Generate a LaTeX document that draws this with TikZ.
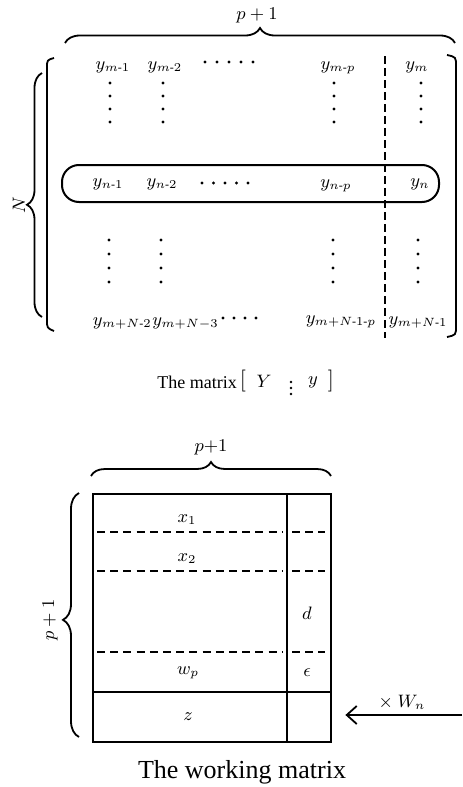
\documentclass[tikz,border=0pt]{standalone}
\usepackage{amsmath}
\usepackage{fontspec}
\setmainfont{Liberation Serif}
\usetikzlibrary{decorations.pathreplacing,arrows.meta}
\begin{document}
\begin{tikzpicture}[x=0.5pt,y=-0.5pt,
  lab/.style={font=\fontsize{9}{10}\selectfont, inner sep=0pt},
  captext/.style={font=\fontsize{9}{10}\selectfont, inner sep=0pt},
  bracepath/.style={decorate, decoration={brace, amplitude=#1}, line width=0.9pt},
  delim/.style={line width=0.9pt},
  sep/.style={line width=1pt, dash pattern=on 4pt off 2pt},
  rowsep/.style={line width=1pt, dash pattern=on 4pt off 2.6pt},
  frame/.style={line width=1.2pt},
  entry/.style={fill=black}]
\useasboundingbox (0,0) rectangle (462,787);

% ---------- the matrix [ Y : y ] ----------
% width brace
\draw[bracepath=7.5pt] (65,43) -- (455,43);
\node[lab] (pone) at (257,15) {$p+1$};

% height brace
\draw[bracepath=7.5pt, decoration={aspect=0.46}] (42,317) -- (42,73);
\node[lab, rotate=90] (nlab) at (19,205) {$N$};

% matrix delimiters
\draw[delim] (54,58) .. controls (47,60) .. (47,68) -- (47,320) .. controls (47,328) .. (54,331);
\draw[delim] (447,55) .. controls (456,57) .. (456,66) -- (456,326) .. controls (456,335) .. (447,337);

% partition between Y and y
\draw[sep] (385,56) -- (385,338);

% highlighted row n
\draw[line width=1pt, rounded corners=8.5pt] (62,165) rectangle (439,202);

% first row
\node[lab] (a1) at (113,67) {$y_{m\text{-}1}$};
\node[lab] (a2) at (165,67) {$y_{m\text{-}2}$};
\node[lab] (ap) at (338,68) {$y_{m\text{-}p}$};
\node[lab] (am) at (417,67) {$y_{m}$};
\foreach \cx in {205,217,229,241,253} \fill[entry] (\cx,62) circle[radius=0.8pt];

% row n
\node[lab] (b1) at (108,184) {$y_{n\text{-}1}$};
\node[lab] (b2) at (162,184) {$y_{n\text{-}2}$};
\node[lab] (bp) at (336,186) {$y_{n\text{-}p}$};
\node[lab] (bn) at (420,184) {$y_{n}$};
\foreach \cx in {202,213.5,225,236.5,248} \fill[entry] (\cx,183) circle[radius=0.8pt];

% last row
\node[lab, anchor=east] (c1) at (152,323) {$y_{m+N\text{-}2}$};
\node[lab, anchor=west] (c2) at (c1.east) {$y_{m+N-3}$};
\node[lab] (cp) at (341,322) {$y_{m+N\text{-}1\text{-}p}$};
\node[lab] (cm) at (418,322) {$y_{m+N\text{-}1}$};
\foreach \cx in {223,234,245,256} \fill[entry] (\cx,318) circle[radius=0.8pt];

% vertical ellipses in the columns
\foreach \cx in {110,163,334,421}
  \foreach \cy in {83,96,109,122}
    \fill[entry] (\cx,\cy) circle[radius=0.8pt];
\foreach \cx in {109,161,333,418}
  \foreach \cy in {240,254,268,282}
    \fill[entry] (\cx,\cy) circle[radius=0.8pt];

% caption of the data matrix
\node[captext] (mcap) at (197,382) {The matrix};
\node[captext, font=\fontsize{10.5}{11}\selectfont] (lbr) at (243,381) {$[$};
\node[captext] (bigY) at (264,381) {$Y$};
\foreach \cy in {382,388,394} \fill[entry] (291,\cy) circle[radius=0.7pt];
\node[captext] (smally) at (313,382) {$y$};
\node[captext, font=\fontsize{10.5}{11}\selectfont] (rbr) at (331,381) {$]$};

% ---------- the working matrix ----------
\draw[bracepath=7pt] (91,476) -- (331,476);
\node[lab] (wpone) at (211,447) {$p{+}1$};

\draw[bracepath=8pt, decoration={aspect=0.48}] (79,737) -- (79,493);
\node[lab, rotate=90] (hpone) at (50,620) {$p+1$};

\node[frame, draw, anchor=north west, minimum width=119pt, minimum height=124pt, inner sep=0pt]
  (wm) at (92,493) {};
\coordinate (col) at (287,493);
\draw[frame] (col) -- (col |- wm.south);
\draw[frame] (92,692) -- (330,692);

\foreach \ry in {532,571,652} {
  \draw[rowsep] (97,\ry) -- (283,\ry);
  \draw[rowsep] (292,\ry) -- (325,\ry);
}

\node[lab] (x1) at (187,520) {$x_1$};
\node[lab] (x2) at (187,559) {$x_2$};
\node[lab] (dd) at (307,613) {$d$};
\node[lab] (wp) at (188,673) {$w_p$};
\node[lab] (ep) at (307,673) {$\epsilon$};
\node[lab] (zz) at (188,717) {$z$};

\coordinate (tail) at (462,715);
\draw[line width=0.9pt, -{Straight Barb[length=5pt,width=9pt]}]
  (tail) -- ([xshift=6.5pt]wm.east |- tail);
\node[lab] (wn) at (402,702) {$\times\ W_n$};

\node[font=\fontsize{13}{15}\selectfont, inner sep=0pt] (wcap) at (242,772) {The working matrix};
\end{tikzpicture}
\end{document}
